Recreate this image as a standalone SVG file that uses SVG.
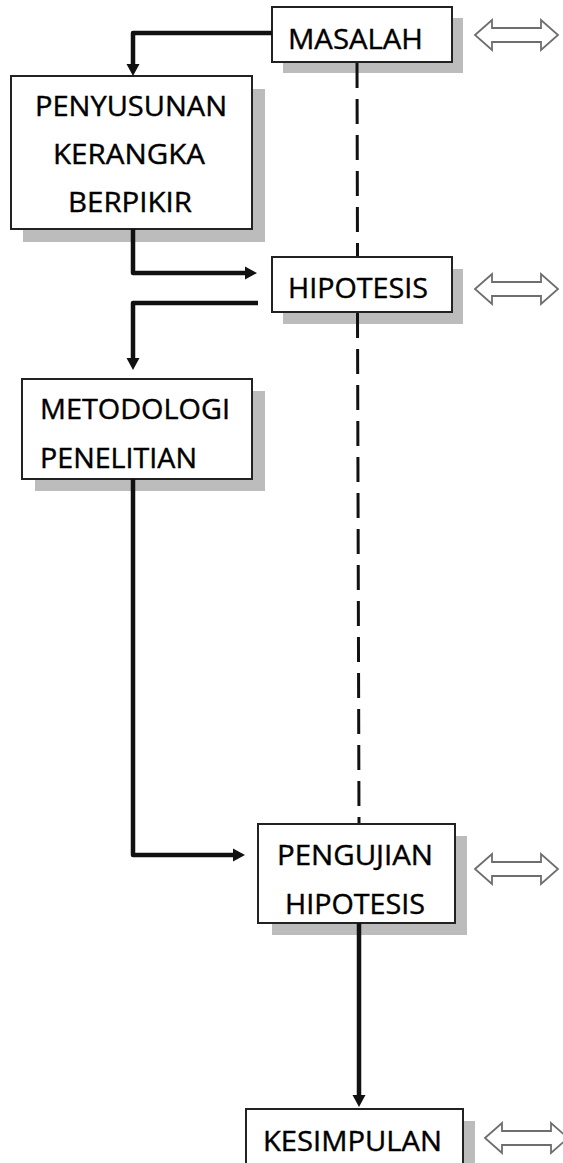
<svg xmlns="http://www.w3.org/2000/svg" xmlns:xlink="http://www.w3.org/1999/xlink" width="563" height="1163" viewBox="0 0 563 1163">
<style>
.shadow{fill:#bcbcbc;stroke:none}
.box{fill:#fff;stroke:#222;stroke-width:2}
.lbl{font-family:"Open Sans","Liberation Sans",sans-serif;font-size:28px;fill:#000;stroke:#000;stroke-width:0.4}
.conn{fill:none;stroke:#111;stroke-width:4.5;stroke-linejoin:round}
.dash{fill:none;stroke:#111;stroke-width:3;stroke-dasharray:25 11}
.dbl{fill:#fff;stroke:#6e6e6e;stroke-width:1.8}
</style>
<defs>
<marker id="ah" markerUnits="userSpaceOnUse" markerWidth="14" markerHeight="14" refX="2" refY="7" orient="auto" viewBox="0 0 14 14">
<path d="M0,0.5 L12,7 L0,13.5 z" fill="#111"/>
</marker>
<polygon id="darrow" points="0,0 17,-15 17,-7 66,-7 66,-15 83,0 66,15 66,7 17,7 17,15"/>
</defs>
<rect width="563" height="1163" fill="#fff"/>
<g id="masalah">
<rect class="shadow" x="283" y="18" width="180" height="55"/>
<rect class="box" x="272" y="7" width="180" height="55"/>
<text class="lbl" x="288" y="49" textLength="135" lengthAdjust="spacingAndGlyphs">MASALAH</text>
<use href="#darrow" class="dbl" x="475" y="35"/>
</g>
<g id="penyusunan">
<rect class="shadow" x="23" y="89" width="242" height="153"/>
<rect class="box" x="11" y="76" width="241" height="153"/>
<text class="lbl" x="35" y="116" textLength="192" lengthAdjust="spacingAndGlyphs">PENYUSUNAN</text>
<text class="lbl" x="53" y="164" textLength="152" lengthAdjust="spacingAndGlyphs">KERANGKA</text>
<text class="lbl" x="68" y="212" textLength="124" lengthAdjust="spacingAndGlyphs">BERPIKIR</text>
</g>
<g id="hipotesis">
<rect class="shadow" x="283" y="269" width="180" height="55"/>
<rect class="box" x="272" y="257" width="180" height="55"/>
<text class="lbl" x="288" y="298" textLength="140" lengthAdjust="spacingAndGlyphs">HIPOTESIS</text>
<use href="#darrow" class="dbl" x="475" y="289"/>
</g>
<g id="metodologi">
<rect class="shadow" x="35" y="391" width="230" height="100"/>
<rect class="box" x="22" y="379" width="230" height="100"/>
<text class="lbl" x="40" y="419" textLength="190" lengthAdjust="spacingAndGlyphs">METODOLOGI</text>
<text class="lbl" x="40" y="468" textLength="157" lengthAdjust="spacingAndGlyphs">PENELITIAN</text>
</g>
<g id="pengujian">
<rect class="shadow" x="272" y="836" width="195" height="99"/>
<rect class="box" x="258" y="824" width="197" height="99"/>
<text class="lbl" x="277" y="865" textLength="156" lengthAdjust="spacingAndGlyphs">PENGUJIAN</text>
<text class="lbl" x="285" y="914" textLength="140" lengthAdjust="spacingAndGlyphs">HIPOTESIS</text>
<use href="#darrow" class="dbl" x="475" y="869"/>
</g>
<g id="kesimpulan">
<rect class="shadow" x="258" y="1121" width="217" height="60"/>
<rect class="box" x="246" y="1109" width="217" height="70"/>
<text class="lbl" x="263" y="1151" textLength="179" lengthAdjust="spacingAndGlyphs">KESIMPULAN</text>
<use href="#darrow" class="dbl" x="485" y="1138"/>
</g>
<g id="connectors">
<path class="conn" d="M272,33 H133 V66" marker-end="url(#ah)"/>
<path class="conn" d="M133,229 V273 H247" marker-end="url(#ah)"/>
<path class="conn" d="M258,303 H133 V360" marker-end="url(#ah)"/>
<path class="conn" d="M133,479 V855 H235" marker-end="url(#ah)"/>
<path class="conn" d="M359,923 V1097" marker-end="url(#ah)"/>
<path class="dash" d="M357,63 L357.5,256"/>
<path class="dash" d="M357.5,313 L359,823"/>
</g>
</svg>
